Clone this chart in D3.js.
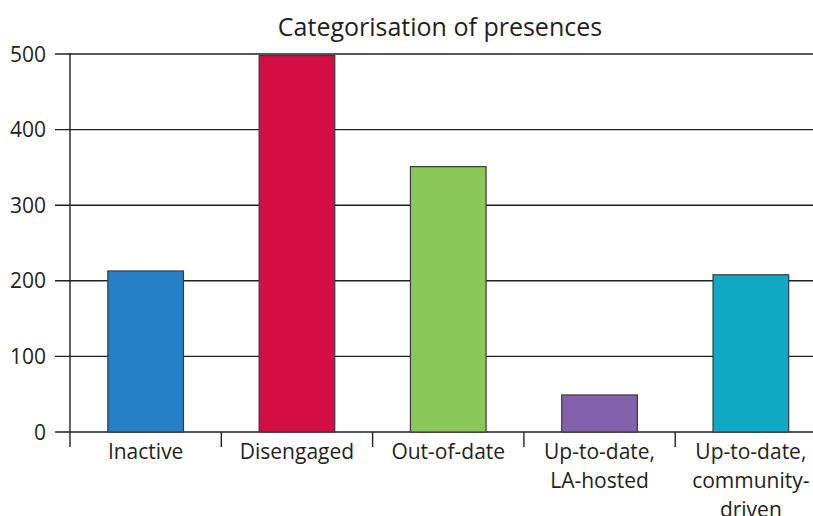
<!DOCTYPE html>
<head>
  <title>Categorisation of presences</title>
</head>
<meta charset="utf-8">
<script src="https://d3js.org/d3.v7.min.js"></script>
<style>
  body { margin: 0; background: #fff; }
  text { font-family: "Open Sans", Lato, sans-serif; fill: #231f20; }
</style>
<div id="my_dataviz"></div>
<script>

// data
var categories = ["Inactive", "Disengaged", "Out-of-date", "Up-to-date, LA-hosted", "Up-to-date, community-driven"]
var labelLines = [["Inactive"], ["Disengaged"], ["Out-of-date"], ["Up-to-date,", "LA-hosted"], ["Up-to-date,", "community-", "driven"]]
var counts = [213, 498, 351, 49, 208]
var barColors = ["#2680c8", "#d30e44", "#8bc85a", "#8260aa", "#10a9c5"]
var yTicks = [0, 100, 200, 300, 400, 500]

var W = 813, H = 516
var plotLeft = 70, plotTop = 54, plotBottom = 432
var bandW = 151.3

var svg = d3.select("#my_dataviz")
  .append("svg")
    .attr("width", W)
    .attr("height", H)

var x = d3.scaleBand()
  .domain(categories)
  .range([plotLeft, plotLeft + bandW * categories.length])
  .paddingInner(0.5)
  .paddingOuter(0.25)

var y = d3.scaleLinear()
  .domain([0, 500])
  .range([plotBottom, plotTop])

// gridlines + y ticks
svg.append("g")
  .selectAll("line")
  .data(yTicks)
  .join("line")
    .attr("x1", 55)
    .attr("x2", W)
    .attr("y1", function(d){ return y(d) })
    .attr("y2", function(d){ return y(d) })
    .attr("stroke", "#231f20")
    .attr("stroke-width", 1.4)

// y labels
svg.append("g")
  .selectAll("text")
  .data(yTicks)
  .join("text")
    .attr("x", 46)
    .attr("y", function(d){ return y(d) })
    .attr("dy", "0.36em")
    .attr("text-anchor", "end")
    .style("font-size", "21px")
    .text(function(d){ return d })

// bars
svg.append("g")
  .selectAll("rect")
  .data(counts)
  .join("rect")
    .attr("x", function(d, i){ return x(categories[i]) })
    .attr("width", x.bandwidth())
    .attr("y", function(d){ return y(d) })
    .attr("height", function(d){ return y(0) - y(d) })
    .attr("fill", function(d, i){ return barColors[i] })
    .attr("stroke", "#3a3a3a")
    .attr("stroke-width", 1.2)

// y axis line
svg.append("line")
  .attr("x1", plotLeft).attr("x2", plotLeft)
  .attr("y1", plotTop - 1).attr("y2", 447)
  .attr("stroke", "#231f20")
  .attr("stroke-width", 1.4)

// x category separators
var seps = d3.range(categories.length).map(function(i){ return plotLeft + bandW * (i + 1) })
svg.append("g")
  .selectAll("line")
  .data(seps)
  .join("line")
    .attr("x1", function(d){ return d }).attr("x2", function(d){ return d })
    .attr("y1", plotBottom).attr("y2", 447)
    .attr("stroke", "#231f20")
    .attr("stroke-width", 1.4)

// x labels
var xl = svg.append("g")
  .selectAll("text")
  .data(categories)
  .join("text")
    .attr("text-anchor", "middle")
    .attr("x", function(d){ return x(d) + x.bandwidth() / 2 })
    .attr("y", 459)
    .style("font-size", "21px")
xl.selectAll("tspan")
  .data(function(d, i){ return labelLines[i] })
  .join("tspan")
    .attr("x", function(){ return this.parentNode.getAttribute("x") })
    .attr("dy", function(d, j){ return j === 0 ? 0 : 29 })
    .text(function(d){ return d })

// title
svg.append("text")
  .attr("x", 440)
  .attr("y", 36)
  .attr("text-anchor", "middle")
  .style("font-size", "25px")
  .text("Categorisation of presences")

</script>
